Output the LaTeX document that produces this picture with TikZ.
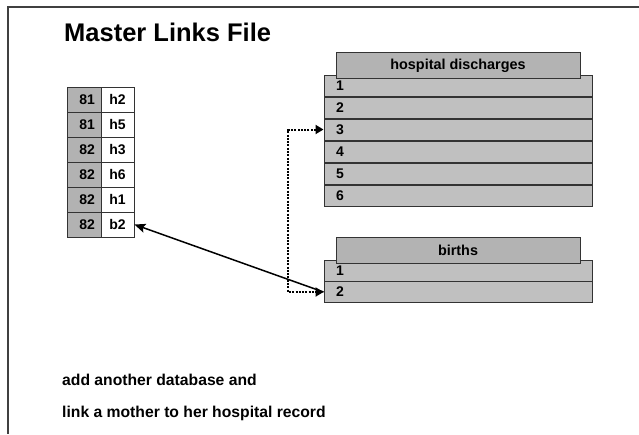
\documentclass[tikz,border=0pt]{standalone}
\usepackage{fontspec}
\setmainfont{Liberation Sans}
\usetikzlibrary{arrows.meta}

\definecolor{edge}{HTML}{333333}
\definecolor{rowgray}{HTML}{C0C0C0}
\definecolor{headgray}{HTML}{B3B3B3}
\definecolor{keygray}{HTML}{B2B2B2}
\definecolor{framegray}{HTML}{404040}

\tikzset{
  frameline/.style={draw=framegray, line width=2pt},
  keycell/.style={draw=edge, fill=keygray, line width=0.8pt, minimum width=34pt,
    minimum height=25pt, inner xsep=6pt, inner ysep=0pt, text width=22pt, align=right,
    font=\bfseries\fontsize{14}{16}\selectfont},
  idcell/.style={draw=edge, fill=white, line width=0.8pt, minimum width=33pt,
    minimum height=25pt, inner sep=0pt, font=\bfseries\fontsize{14}{16}\selectfont},
  dbrow/.style={draw=edge, fill=rowgray, line width=1pt, minimum width=268pt,
    minimum height=21pt, inner xsep=12pt, inner ysep=0pt, text width=244pt, align=left,
    font=\bfseries\fontsize{14}{15}\selectfont},
  dbhead/.style={draw=edge, fill=headgray, line width=1pt, minimum width=244pt,
    minimum height=26pt, inner sep=0pt, font=\bfseries\fontsize{14.4}{16}\selectfont},
  link/.style={draw=black, line width=1.5pt, -{Stealth[length=11pt,width=9pt,inset=2pt]}},
  dotlink/.style={draw=black, line width=2pt, dash pattern=on 2pt off 1.3pt,
    {Triangle[length=8pt,width=9pt]}-{Triangle[length=8pt,width=9pt]}},
  caption/.style={anchor=base west, inner sep=0pt, font=\bfseries\fontsize{15.7}{18}\selectfont},
}

\begin{document}
\begin{tikzpicture}[x=1pt,y=-1pt]
  \useasboundingbox (0,0) rectangle (639,434);

  % page frame: top and left edges
  \draw[frameline] (639,7) -- (8,7) -- (8,434);

  % title
  \node[anchor=base west, inner sep=0pt, font=\bfseries\fontsize{25.5}{30}\selectfont]
    (title) at (64,41) {Master Links File};

  % master links table
  \foreach \k/\id/\n [count=\i from 0] in {81/h2/1, 81/h5/2, 82/h3/3, 82/h6/4, 82/h1/5, 82/b2/6} {
    \node[keycell] (key\n) at (84,{99.5+25*\i}) {\k};
    \node[idcell]  (id\n)  at (117.5,{99.5+25*\i}) {\id};
  }

  % hospital discharges database
  \foreach \n [count=\i from 0] in {1,...,6} {
    \node[dbrow] (hd\n) at (458,{85.5+22*\i}) {\n};
  }
  \node[dbhead] (hdhead) at (458,65.5) {hospital discharges};

  % births database
  \node[dbrow] (br1) at (458,270.5) {1};
  \node[dbrow] (br2) at (458,292) {2};
  \node[dbhead] (brhead) at (458,250) {births};

  % links
  \coordinate (bend) at (288,0);
  \draw[dotlink] (hd3.west) -- (bend |- hd3.west) -- (bend |- br2.west) -- (br2.west);
  \draw[link] (br2.west) -- (id6.east);

  % caption
  \node[caption] (cap1) at (62,385) {add another database and};
  \node[caption] (cap2) at (62,417) {link a mother to her hospital record};
\end{tikzpicture}
\end{document}
